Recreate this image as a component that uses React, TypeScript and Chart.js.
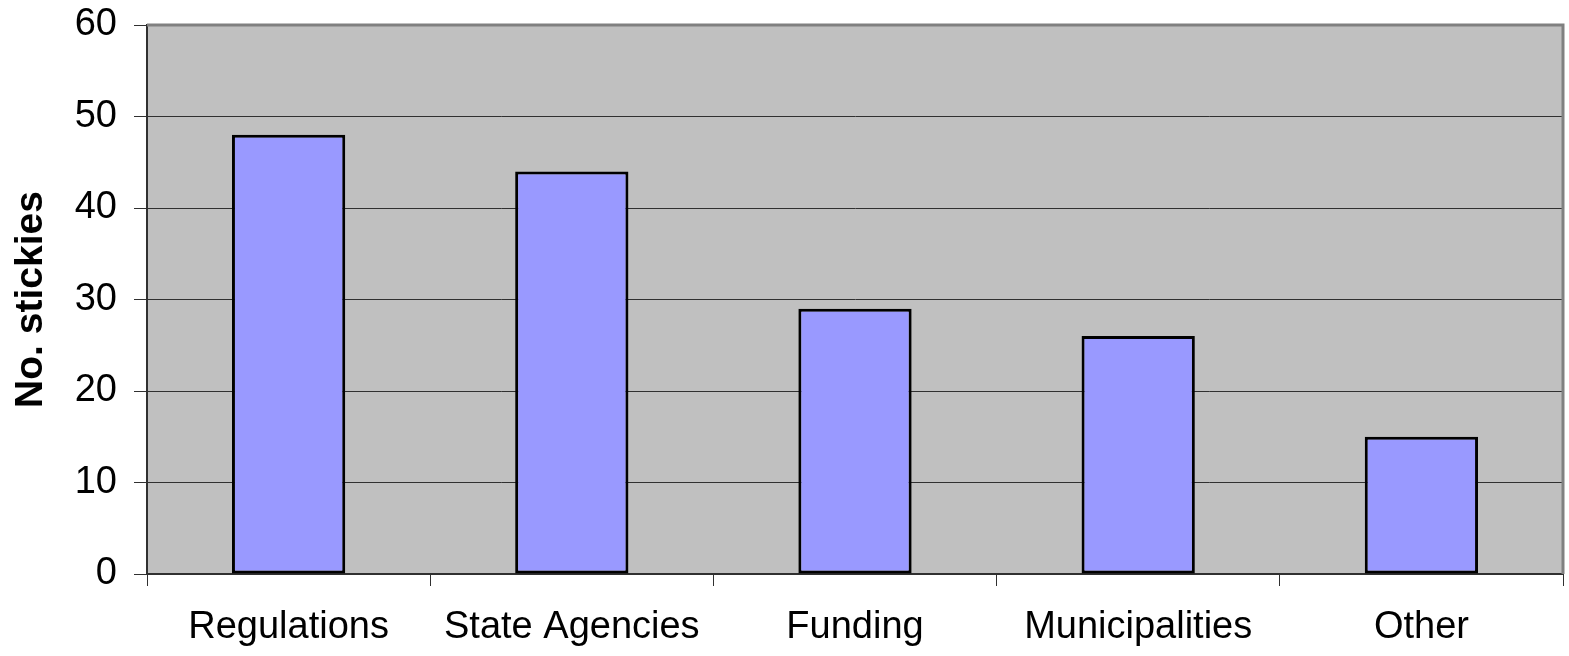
import React, { useEffect, useRef } from "react";
import { Chart, registerables } from "chart.js";

Chart.register(...registerables);

const categories = ["Regulations", "State Agencies", "Funding", "Municipalities", "Other"];
const stickies = [48, 44, 29, 26, 15];
const yTicks = [0, 10, 20, 30, 40, 50, 60];
const yTitle = "No. stickies";

const FONT = "'Liberation Sans', Arial, sans-serif";

const plotBg = {
  id: "plotBg",
  beforeDraw(chart: any) {
    const { ctx, chartArea } = chart;
    ctx.save();
    ctx.fillStyle = "#C0C0C0";
    ctx.fillRect(chartArea.left, chartArea.top, chartArea.right - chartArea.left, chartArea.bottom - chartArea.top);
    ctx.restore();
  },
  afterDraw(chart: any) {
    const { ctx, chartArea } = chart;
    ctx.save();
    ctx.strokeStyle = "#808080";
    ctx.lineWidth = 3;
    ctx.beginPath();
    ctx.moveTo(chartArea.left, chartArea.top);
    ctx.lineTo(chartArea.right, chartArea.top);
    ctx.lineTo(chartArea.right, chartArea.bottom);
    ctx.stroke();
    ctx.restore();
  },
};

export default function App() {
  const ref = useRef<HTMLCanvasElement | null>(null);
  useEffect(() => {
    if (!ref.current) return;
    const chart = new Chart(ref.current, {
      type: "bar",
      data: {
        labels: categories,
        datasets: [
          {
            data: stickies,
            backgroundColor: "#9999FF",
            borderColor: "#000000",
            borderWidth: 3,
            borderSkipped: false,
            categoryPercentage: 1,
            barPercentage: 0.4,
          },
        ],
      },
      options: {
        animation: false,
        responsive: false,
        maintainAspectRatio: false,
        layout: { padding: { top: 25, right: 6, left: 0, bottom: 0 } },
        plugins: { legend: { display: false }, tooltip: { enabled: false } },
        scales: {
          x: {
            offset: true,
            grid: {
              offset: true,
              drawOnChartArea: false,
              tickLength: 12,
              color: "#303030",
              tickColor: "#303030",
            },
            border: { display: true, color: "#303030", width: 2 },
            ticks: {
              color: "#000",
              font: { family: FONT, size: 38 },
              padding: 19,
              autoSkip: false,
              maxRotation: 0,
            },
            afterFit(scale: any) {
              scale.height = 82;
              scale.paddingLeft = 0;
              scale.paddingRight = 0;
            },
          },
          y: {
            min: 0,
            max: 60,
            afterBuildTicks(scale: any) {
              scale.ticks = yTicks.map((v) => ({ value: v }));
            },
            grid: {
              color: "#303030",
              lineWidth: 1,
              tickLength: 13,
              tickColor: "#303030",
            },
            border: { display: true, color: "#303030", width: 2 },
            ticks: {
              color: "#000",
              font: { family: FONT, size: 38 },
              padding: 17,
            },
            title: {
              display: true,
              text: yTitle,
              color: "#000",
              font: { family: FONT, size: 39, weight: "bold" },
              padding: { top: 8, bottom: 0 },
            },
            afterFit(scale: any) {
              scale.width = 147;
              scale.paddingTop = 0;
              scale.paddingBottom = 0;
            },
          },
        },
      },
      plugins: [plotBg],
    });
    return () => chart.destroy();
  }, []);
  return (
    <div style={{ position: "fixed", left: 0, top: 0, width: 1569, height: 656, background: "#fff" }}>
      <canvas ref={ref} width={1569} height={656} style={{ width: 1569, height: 656 }} />
    </div>
  );
}
